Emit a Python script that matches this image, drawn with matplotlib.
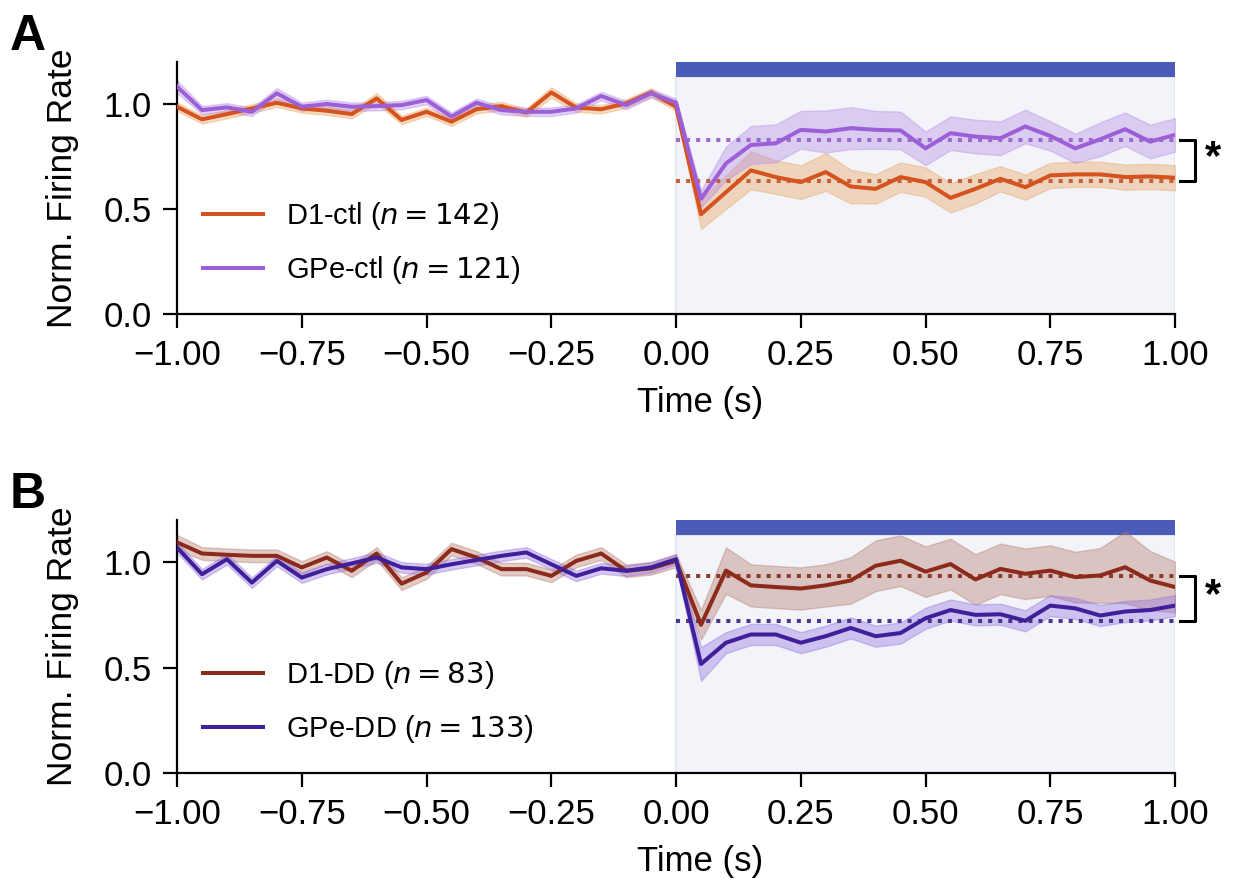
import numpy as np
import matplotlib
matplotlib.use("Agg")
import matplotlib.pyplot as plt

# ---------------------------------------------------------
# Donnees : pas de 50 ms, -1 s a +1 s
# ---------------------------------------------------------
time = np.linspace(-1.0, 1.0, 41)

d1_ctl = [0.987, 0.927, 0.952, 0.979, 1.006, 0.979, 0.968, 0.952, 1.027, 0.924,
          0.963, 0.916, 0.975, 0.990, 0.959, 1.055, 0.983, 0.975, 1.003, 1.055,
          0.987, 0.475, 0.580, 0.684, 0.652, 0.628, 0.676, 0.607, 0.596, 0.652,
          0.628, 0.553, 0.596, 0.644, 0.604, 0.660, 0.665, 0.665, 0.652, 0.655, 0.649]
d1_ctl_sem = [0.02, 0.02, 0.02, 0.02, 0.02, 0.02, 0.02, 0.02, 0.025, 0.02,
              0.02, 0.02, 0.02, 0.02, 0.02, 0.025, 0.02, 0.02, 0.02, 0.02,
              0.02, 0.07, 0.08, 0.09, 0.08, 0.08, 0.09, 0.08, 0.07, 0.07,
              0.07, 0.07, 0.07, 0.06, 0.06, 0.06, 0.06, 0.06, 0.06, 0.06, 0.06]

gpe_ctl = [1.083, 0.971, 0.984, 0.963, 1.051, 0.987, 1.000, 0.987, 0.990, 0.995,
           1.019, 0.940, 1.006, 0.971, 0.963, 0.963, 0.979, 1.038, 0.995, 1.051,
           1.006, 0.548, 0.717, 0.805, 0.813, 0.877, 0.869, 0.885, 0.877, 0.874,
           0.789, 0.861, 0.845, 0.837, 0.893, 0.848, 0.789, 0.832, 0.880, 0.821, 0.853]
gpe_ctl_sem = [0.03, 0.02, 0.02, 0.02, 0.025, 0.02, 0.02, 0.02, 0.02, 0.02,
               0.02, 0.02, 0.02, 0.02, 0.02, 0.02, 0.02, 0.02, 0.02, 0.02,
               0.02, 0.04, 0.08, 0.09, 0.09, 0.09, 0.10, 0.10, 0.09, 0.09,
               0.08, 0.08, 0.08, 0.08, 0.08, 0.07, 0.07, 0.08, 0.08, 0.08, 0.08]

d1_dd = [1.094, 1.041, 1.035, 1.030, 1.030, 0.975, 1.022, 0.959, 1.041, 0.898,
         0.951, 1.062, 1.022, 0.967, 0.967, 0.935, 1.006, 1.041, 0.959, 0.971,
         1.006, 0.703, 0.960, 0.890, 0.882, 0.875, 0.890, 0.913, 0.983, 1.007,
         0.955, 0.991, 0.918, 0.968, 0.945, 0.960, 0.929, 0.937, 0.976, 0.913, 0.882]
d1_dd_sem = [0.035, 0.03, 0.03, 0.03, 0.03, 0.03, 0.03, 0.03, 0.03, 0.03,
             0.03, 0.03, 0.03, 0.03, 0.03, 0.03, 0.03, 0.03, 0.03, 0.03,
             0.03, 0.07, 0.11, 0.10, 0.10, 0.10, 0.10, 0.11, 0.12, 0.12,
             0.12, 0.12, 0.12, 0.12, 0.12, 0.12, 0.12, 0.13, 0.17, 0.14, 0.12]

gpe_dd = [1.070, 0.943, 1.014, 0.903, 1.006, 0.927, 0.967, 0.994, 1.022, 0.975,
          0.967, 0.990, 1.010, 1.030, 1.046, 0.990, 0.935, 0.971, 0.959, 0.975,
          1.014, 0.517, 0.618, 0.657, 0.657, 0.618, 0.649, 0.688, 0.649, 0.664,
          0.734, 0.773, 0.750, 0.753, 0.722, 0.794, 0.781, 0.747, 0.766, 0.773, 0.794]
gpe_dd_sem = [0.025, 0.025, 0.025, 0.025, 0.025, 0.025, 0.025, 0.025, 0.025, 0.025,
              0.025, 0.025, 0.025, 0.025, 0.025, 0.025, 0.025, 0.025, 0.025, 0.025,
              0.025, 0.08, 0.05, 0.05, 0.05, 0.05, 0.05, 0.05, 0.05, 0.05,
              0.05, 0.05, 0.05, 0.05, 0.05, 0.05, 0.05, 0.05, 0.05, 0.05, 0.05]

# moyennes pendant la stimulation (lignes pointillees)
stim_mean_a = {"D1-ctl": 0.635, "GPe-ctl": 0.829}
stim_mean_b = {"D1-DD": 0.935, "GPe-DD": 0.721}

labels_a = ["D1-ctl ($n = 142$)", "GPe-ctl ($n = 121$)"]
labels_b = ["D1-DD ($n = 83$)", "GPe-DD ($n = 133$)"]

xticks = [-1.0, -0.75, -0.5, -0.25, 0.0, 0.25, 0.5, 0.75, 1.0]
yticks = [0.0, 0.5, 1.0]

# ---------------------------------------------------------
# Style
# ---------------------------------------------------------
plt.rcParams["font.family"] = ["Liberation Sans", "DejaVu Sans"]
plt.rcParams["axes.linewidth"] = 1.6
plt.rcParams["xtick.major.width"] = 1.6
plt.rcParams["ytick.major.width"] = 1.6
plt.rcParams["xtick.major.size"] = 10
plt.rcParams["ytick.major.size"] = 10

col = {
    "D1-ctl": ("#d4531e", "#eaa25c", "#c4633a"),
    "GPe-ctl": ("#9d5fd8", "#b48ae6", "#9d6bd0"),
    "D1-DD": ("#8c2a1c", "#b57868", "#8c3a2c"),
    "GPe-DD": ("#3f1f9a", "#9270e0", "#4a3590"),
}


def draw_panel(ax, series, means, labels, letter):
    ax.axvspan(0, 1, ymax=1.13 / 1.2, facecolor="#f2f4f9", edgecolor="#dfe4f0", lw=1.2, zorder=0)
    ax.axhspan(1.13, 1.2, xmin=0.5, xmax=1.0, color="#4b5cb8", zorder=1, lw=0)
    handles = []
    for (name, m, s), lab in zip(series, labels):
        line_c, band_c, dot_c = col[name]
        m = np.array(m)
        s = np.array(s)
        ax.fill_between(time, m - s, m + s, color=band_c, alpha=0.38, lw=1.0, zorder=2)
        h, = ax.plot(time, m, color=line_c, lw=2.9, zorder=4, label=lab)
        ax.plot([0, 1], [means[name]] * 2, color=dot_c, lw=2.9, ls=(0, (1, 1.5)), zorder=3)
        handles.append(h)
    lo, hi = sorted(means.values())
    bx0, bx1 = 1.01, 1.04
    ax.plot([bx0, bx1, bx1, bx0], [hi, hi, lo, lo], color="black", lw=2.2,
            clip_on=False, zorder=5)
    ax.text(1.077, (lo + hi) / 2 + 0.01, "*", fontsize=30, fontweight="bold",
            ha="center", va="center")
    ax.legend(handles=handles, loc="lower left", bbox_to_anchor=(0.026, 0.11),
              borderaxespad=0, borderpad=0, frameon=False, fontsize=21,
              handlelength=2.05, handletextpad=0.8, labelspacing=0.75)
    ax.set_xlim(-1, 1)
    ax.set_ylim(0, 1.2)
    ax.set_xticks(xticks)
    ax.set_xticklabels([f"{v:.2f}".replace("-", "\u2212") for v in xticks])
    ax.set_yticks(yticks)
    ax.set_yticklabels([f"{v:.1f}" for v in yticks])
    ax.tick_params(labelsize=25, direction="out", pad=8)
    ax.set_xlabel("Time (s)", fontsize=25)
    ax.set_ylabel("Norm. Firing Rate", fontsize=25.5)
    ax.xaxis.set_label_coords(0.524, -0.285)
    ax.yaxis.set_label_coords(-0.098, 0.5)
    ax.spines["top"].set_visible(False)
    ax.spines["right"].set_visible(False)
    ax.text(-0.168, 1.10, letter, transform=ax.transAxes, fontsize=36,
            fontweight="bold", ha="left", va="center")


fig = plt.figure(figsize=(12.33, 8.86), dpi=100)
axA = fig.add_axes([0.1436, 0.6456, 0.8094, 0.2844])
axB = fig.add_axes([0.1436, 0.1275, 0.8094, 0.2856])

draw_panel(axA, [("D1-ctl", d1_ctl, d1_ctl_sem), ("GPe-ctl", gpe_ctl, gpe_ctl_sem)],
           stim_mean_a, labels_a, "A")
draw_panel(axB, [("D1-DD", d1_dd, d1_dd_sem), ("GPe-DD", gpe_dd, gpe_dd_sem)],
           stim_mean_b, labels_b, "B")

plt.savefig("out.png", dpi=100)
plt.close()
